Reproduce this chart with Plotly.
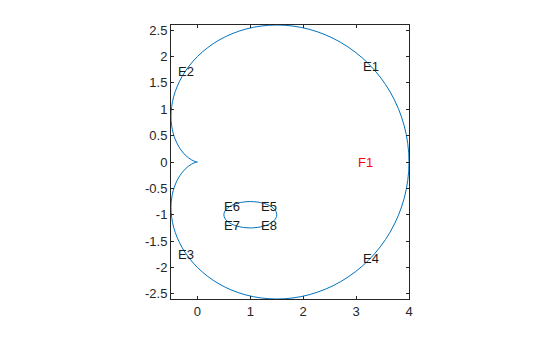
import plotly.graph_objects as go

# Cardioid outline points, starting at the cusp (0,0)
curve_x = [0.0, -0.030, -0.113, -0.232, -0.358, -0.459, -0.5, -0.450, -0.287, 0.0,
           0.408, 0.918, 1.5, 2.112, 2.706, 3.232, 3.645, 3.909, 4.0,
           3.909, 3.645, 3.232, 2.706, 2.112, 1.5, 0.918, 0.408, 0.0,
           -0.287, -0.450, -0.5, -0.459, -0.358, -0.232, -0.113, -0.030, 0.0]
curve_y = [0.0, -0.005, -0.041, -0.134, -0.301, -0.547, -0.866, -1.237, -1.628, -2.0,
           -2.312, -2.522, -2.598, -2.517, -2.270, -1.866, -1.327, -0.689, 0.0,
           0.689, 1.327, 1.866, 2.270, 2.517, 2.598, 2.522, 2.312, 2.0,
           1.628, 1.237, 0.866, 0.547, 0.301, 0.134, 0.041, 0.005, 0.0]

# Inner ellipse points
ell_x = [1.0, 1.129, 1.25, 1.354, 1.433, 1.483, 1.5, 1.483, 1.433, 1.354, 1.25, 1.129,
         1.0, 0.871, 0.75, 0.646, 0.567, 0.517, 0.5, 0.517, 0.567, 0.646, 0.75, 0.871, 1.0]
ell_y = [-0.75, -0.759, -0.783, -0.823, -0.875, -0.935, -1.0, -1.065, -1.125, -1.177, -1.217, -1.241,
         -1.25, -1.241, -1.217, -1.177, -1.125, -1.065, -1.0, -0.935, -0.875, -0.823, -0.783, -0.759, -0.75]

# Text labels
label_text = ["E1", "E2", "E3", "E4", "E5", "E6", "E7", "E8", "F1"]
label_x = [3.12, -0.39, -0.39, 3.12, 1.18, 0.48, 0.48, 1.18, 3.01]
label_y = [1.81, 1.72, -1.75, -1.83, -0.84, -0.84, -1.2, -1.2, 0.0]
label_color = ["#1a1a1a"] * 8 + ["#ff0000"]

x_ticks = [0, 1, 2, 3, 4]
y_ticks = [-2.5, -2, -1.5, -1, -0.5, 0, 0.5, 1, 1.5, 2, 2.5]

line_color = "#0072BD"
fig = go.Figure()
fig.add_trace(go.Scatter(x=curve_x, y=curve_y, mode="lines",
                         line=dict(color=line_color, width=1, shape="spline", smoothing=1),
                         hoverinfo="skip"))
fig.add_trace(go.Scatter(x=ell_x, y=ell_y, mode="lines",
                         line=dict(color=line_color, width=1, shape="spline", smoothing=1),
                         hoverinfo="skip"))

for t, x, y, c in zip(label_text, label_x, label_y, label_color):
    fig.add_annotation(x=x, y=y, text=t, showarrow=False, xanchor="left", yanchor="middle",
                       font=dict(color=c, size=13, family="Liberation Sans, Arial"),
                       borderpad=0)

axis_common = dict(showgrid=False, zeroline=False, showline=True, linecolor="#262626",
                   linewidth=1, mirror="allticks", ticks="inside", ticklen=3, tickwidth=1,
                   tickcolor="#262626",
                   tickfont=dict(size=13, color="#262626", family="Liberation Sans, Arial"))

fig.update_xaxes(range=[-0.5, 4.0], tickvals=x_ticks, ticktext=[str(v) for v in x_ticks],
                 **axis_common)
fig.update_yaxes(range=[-2.598, 2.598], tickvals=y_ticks,
                 ticktext=[("%g" % v) for v in y_ticks], **axis_common)

fig.update_layout(width=560, height=337, showlegend=False,
                  margin=dict(l=171, r=151, t=25, b=38),
                  paper_bgcolor="white", plot_bgcolor="white")

fig.write_html("out.html")
